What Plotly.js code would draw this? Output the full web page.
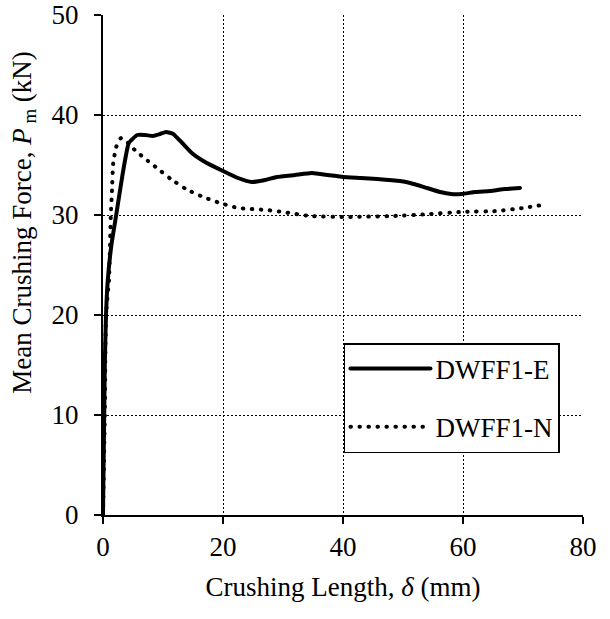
<!DOCTYPE html>
<html>
<head>
<meta charset="utf-8">
<script src="https://cdn.plot.ly/plotly-3.0.1.min.js"></script>
<style>html,body{margin:0;padding:0;background:#fff;}#chart{width:610px;height:619px;}
#chart path.js-line{stroke-linecap:round;stroke-linejoin:round;}</style>
</head>
<body>
<div id="chart"></div>
<script>
// Crushing length (mm) and mean crushing force (kN)
const seriesNames = ["DWFF1-E", "DWFF1-N"];
const eX = [0, 0.3, 0.5, 0.8, 1.4, 2.2, 3.3, 4.3, 5.7, 7, 8.3, 9.5, 10.5, 11.7, 13.2, 14.8, 17, 20, 22.5, 24.8, 27, 29, 32, 34.8, 37.5, 40, 43, 45.7, 49.5, 51.2, 54, 56.2, 58, 59.8, 62, 64.5, 67, 69.5];
const eY = [0, 15, 20, 23.5, 27, 30, 34.2, 37.2, 38, 38, 37.9, 38.1, 38.3, 38.1, 37.2, 36.2, 35.3, 34.4, 33.7, 33.3, 33.5, 33.8, 34.0, 34.2, 34.0, 33.8, 33.7, 33.6, 33.4, 33.2, 32.7, 32.3, 32.1, 32.1, 32.3, 32.4, 32.6, 32.7];
const nX = [0, 0.3, 0.5, 1.0, 1.3, 1.5, 1.7, 2.2, 3, 4.2, 5.3, 7.5, 9, 11.3, 13.8, 16.7, 19.5, 22.5, 27.3, 30, 34.5, 40.7, 48.3, 54.5, 59.5, 65.7, 70, 73.2];
const nY = [0, 10, 20, 23.5, 30, 32.5, 35.2, 36.8, 37.7, 37.2, 36.5, 35.4, 34.7, 33.6, 32.6, 31.8, 31.2, 30.7, 30.5, 30.3, 29.9, 29.8, 29.9, 30.1, 30.3, 30.4, 30.7, 31];
const xTicks = [0, 20, 40, 60, 80];
const yTicks = [0, 10, 20, 30, 40, 50];

const FONT = "Liberation Serif, Times New Roman, serif";

const traces = [
  {x: eX, y: eY, name: seriesNames[0], mode: "lines", legendgroup: "a",
   line: {color: "#000", width: 4, shape: "spline", smoothing: 0.4}},
  {x: nX, y: nY, name: seriesNames[1], mode: "lines", legendgroup: "b",
   line: {color: "#000", width: 4, dash: "0.5px,8.5px", shape: "spline", smoothing: 0.4}}
];

const axisCommon = {
  showline: true, linecolor: "#000", linewidth: 2,
  ticks: "outside", ticklen: 7, tickwidth: 1.5, tickcolor: "#000",
  showgrid: true, gridcolor: "#000", gridwidth: 1, griddash: "2px,2px",
  zeroline: false, tickfont: {family: FONT, size: 27, color: "#000"}
};

const layout = {
  width: 610, height: 619,
  margin: {l: 103, r: 27, t: 15, b: 104},
  paper_bgcolor: "#fff", plot_bgcolor: "#fff",
  font: {family: FONT, color: "#000"},
  showlegend: true,
  xaxis: Object.assign({}, axisCommon, {
    range: [0, 80], tickvals: xTicks, ticktext: xTicks.map(String),
    title: {text: "Crushing Length, <i>δ</i> (mm)", font: {family: FONT, size: 27, color: "#000"}, standoff: 16}
  }),
  yaxis: Object.assign({}, axisCommon, {
    range: [0, 50], tickvals: yTicks, ticktext: yTicks.map(String),
    ticklabelstandoff: 10
  }),
  legend: {
    x: 0.502, y: 0.344, xanchor: "left", yanchor: "top",
    bgcolor: "#fff", bordercolor: "#000", borderwidth: 1.5,
    font: {family: FONT, size: 27, color: "#000"},
    tracegroupgap: 20, itemwidth: 80, traceorder: "grouped"
  },
  annotations: [{
    text: "Mean Crushing Force, <i>P</i><sub> m</sub> (kN)",
    xref: "paper", yref: "paper", x: -0.165, y: 0.586,
    xanchor: "center", yanchor: "middle", textangle: -90, showarrow: false,
    font: {family: FONT, size: 27, color: "#000"}
  }]
};

Plotly.newPlot("chart", traces, layout, {displayModeBar: false, staticPlot: true});
</script>
</body>
</html>
